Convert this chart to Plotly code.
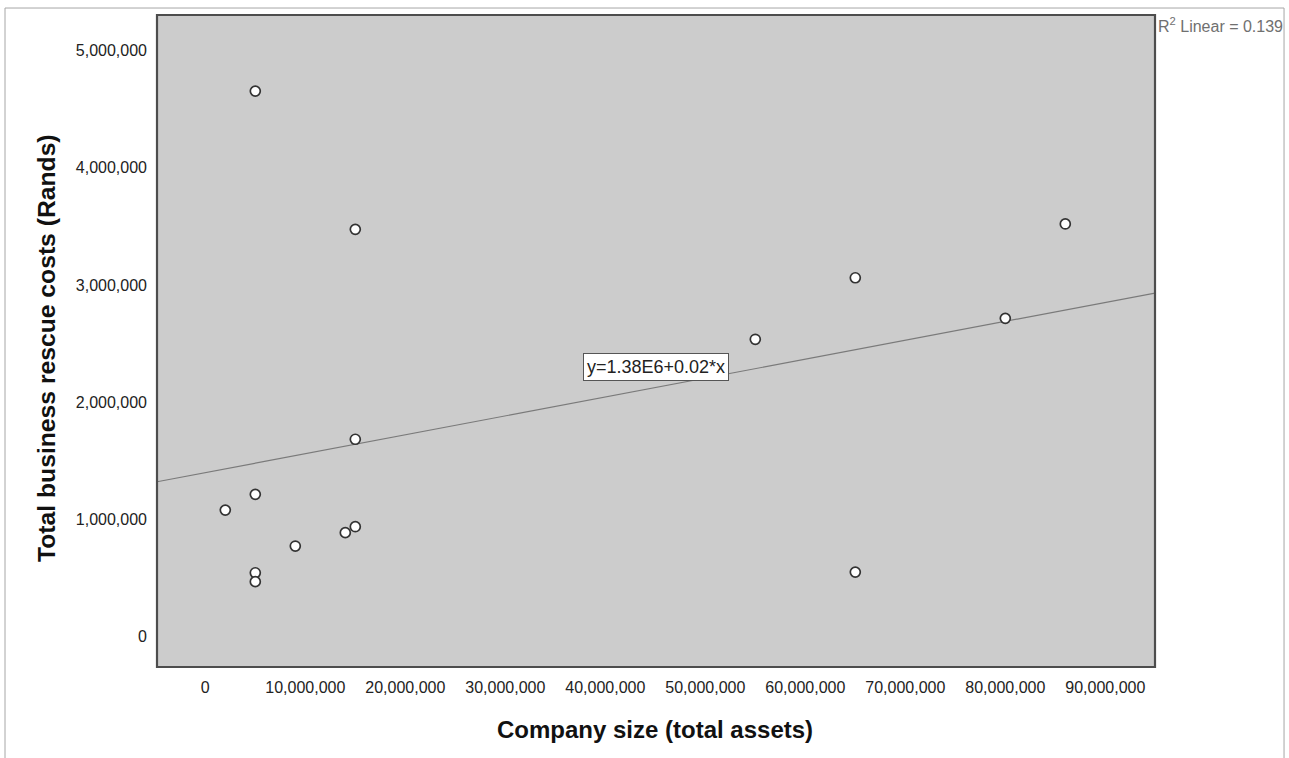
import numpy as np
import plotly.graph_objects as go

# Company size (total assets) and total business rescue costs, in Rands
company_size = [5_000_000, 15_000_000, 15_000_000, 5_000_000, 2_000_000,
                15_000_000, 14_000_000, 9_000_000, 5_000_000, 5_000_000,
                55_000_000, 65_000_000, 65_000_000, 80_000_000, 86_000_000]
rescue_costs = [4_654_000, 3_474_000, 1_683_000, 1_213_000, 1_079_000,
                937_000, 886_000, 772_000, 544_000, 468_000,
                2_536_000, 3_061_000, 550_000, 2_715_000, 3_520_000]

x_ticks = list(range(0, 90_000_001, 10_000_000))
y_ticks = list(range(0, 5_000_001, 1_000_000))
x_range = [-4_830_000, 94_970_000]
y_range = [-260_000, 5_303_000]

equation_text = "y=1.38E6+0.02*x"
r2_text = "R<sup>2</sup> Linear = 0.139"

# Least-squares fit line across the full x range
slope, intercept = np.polyfit(np.array(company_size, float), np.array(rescue_costs, float), 1)
fit_x = np.array(x_range, float)
fit_y = intercept + slope * fit_x

FONT = "Liberation Sans, Arial, sans-serif"

fig = go.Figure()
fig.add_trace(go.Scatter(
    x=fit_x, y=fit_y, mode="lines",
    line=dict(color="#7a7a7a", width=1.2),
    hoverinfo="skip", showlegend=False,
))
fig.add_trace(go.Scatter(
    x=company_size, y=rescue_costs, mode="markers",
    marker=dict(size=10, color="white", line=dict(color="#333333", width=1.7)),
    showlegend=False,
))

fig.update_layout(
    width=1289, height=758,
    margin=dict(l=157, r=134, t=15, b=91, pad=0),
    paper_bgcolor="white", plot_bgcolor="#cccccc",
    font=dict(family=FONT, size=16, color="#222222"),
    xaxis=dict(range=x_range, tickvals=x_ticks, tickformat=",d",
               showgrid=False, zeroline=False, ticks="", showline=False,
               ticklabelstandoff=9, tickfont=dict(size=16, color="#222222")),
    yaxis=dict(range=y_range, tickvals=y_ticks, tickformat=",d",
               showgrid=False, zeroline=False, ticks="", showline=False,
               ticklabelstandoff=9, tickfont=dict(size=16, color="#222222")),
    shapes=[
        # outer chart frame
        dict(type="path", xref="paper", yref="paper",
             path="M -0.1523,-0.14 L -0.1523,1.0107 L 1.1293,1.0107 L 1.1293,-0.14",
             line=dict(color="#a6a6a6", width=1)),
        # plot-area border
        dict(type="rect", xref="paper", yref="paper", x0=0, y0=0, x1=1, y1=1,
             line=dict(color="#4d4d4d", width=2.2)),
    ],
    annotations=[
        dict(text="<b>Company size (total assets)</b>", xref="paper", yref="paper",
             x=0.499, y=-0.0951, xanchor="center", yanchor="middle", showarrow=False,
             font=dict(family=FONT, size=24, color="#111111")),
        dict(text="<b>Total business rescue costs (Rands)</b>", xref="paper", yref="paper",
             x=-0.1102, y=0.4893, xanchor="center", yanchor="middle", showarrow=False,
             textangle=-90, font=dict(family=FONT, size=24.7, color="#111111")),
        dict(text=r2_text, xref="paper", yref="paper",
             x=1.0015, y=0.9847, xanchor="left", yanchor="middle", showarrow=False,
             font=dict(family=FONT, size=16, color="#707070")),
        dict(text=equation_text, xref="x", yref="y",
             x=45_100_000, y=2_300_000, xanchor="center", yanchor="middle", showarrow=False,
             bgcolor="white", bordercolor="#555555", borderwidth=1, borderpad=3,
             font=dict(family=FONT, size=18, color="#222222")),
    ],
)

fig.write_html("out.html")
